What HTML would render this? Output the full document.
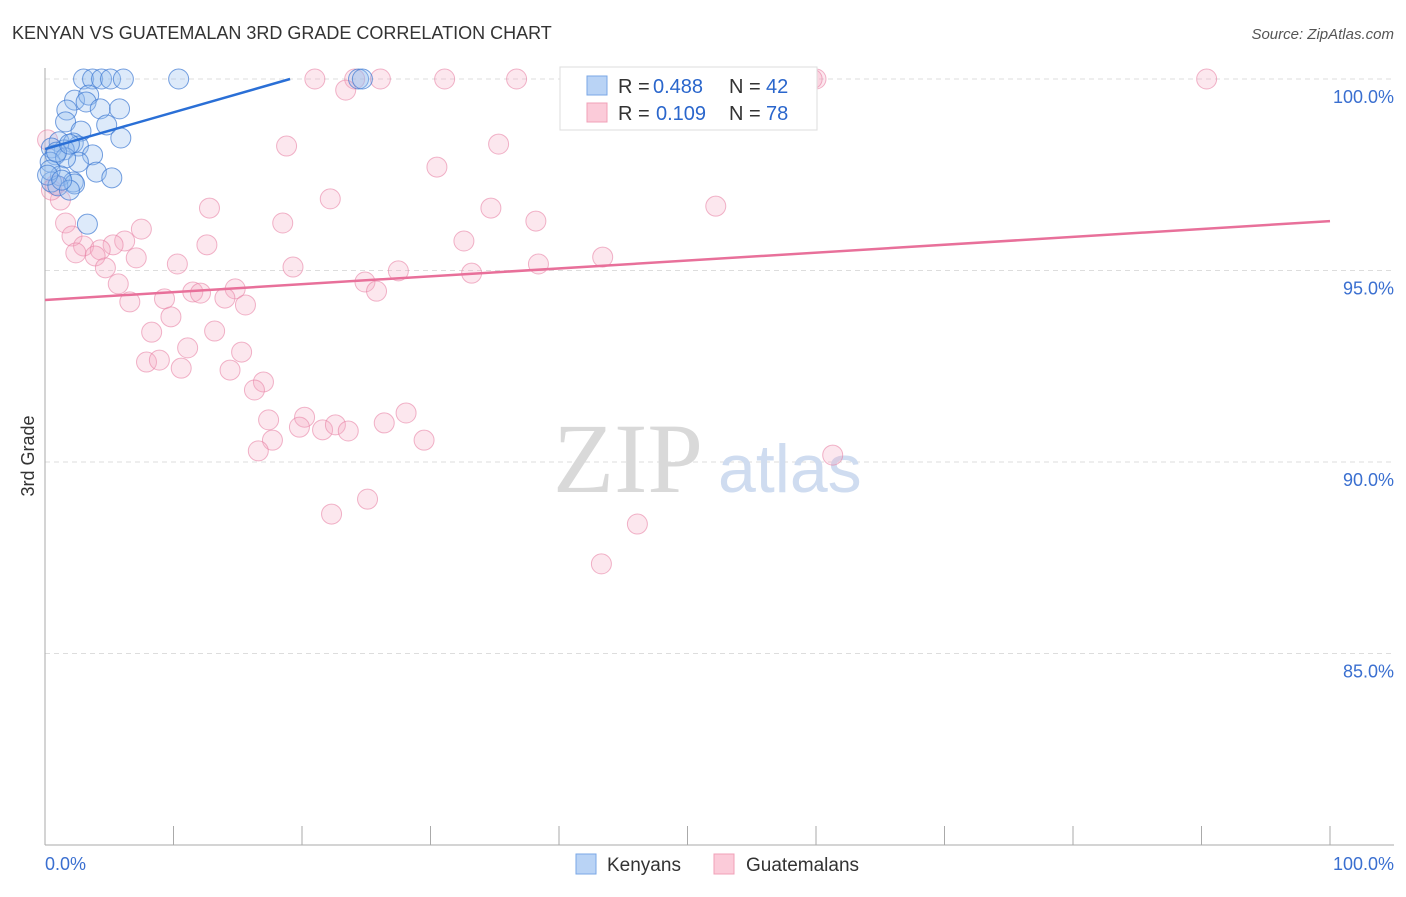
<!DOCTYPE html>
<html><head><meta charset="utf-8"><style>
body{margin:0;background:#fff;font-family:"Liberation Sans",sans-serif;}
</style></head><body>
<svg id="chart" width="1406" height="892" xmlns="http://www.w3.org/2000/svg" font-family="Liberation Sans, sans-serif">
<text x="12" y="39" font-size="18" fill="#333">KENYAN VS GUATEMALAN 3RD GRADE CORRELATION CHART</text>
<text x="1394" y="39" font-size="15" fill="#555" font-style="italic" text-anchor="end">Source: ZipAtlas.com</text>
<text x="34" y="456" font-size="18" fill="#333" transform="rotate(-90 34 456)" text-anchor="middle">3rd Grade</text>
<g id="grid"></g>
<text x="553" y="492" font-size="100" fill="#d9d9d9" style="font-family:'Liberation Serif',serif">ZIP</text>
<text x="718" y="492" font-size="68" fill="#cfdcf0">atlas</text>
<g id="pts"></g>
<g id="lines"></g>
<g>
<rect x="560" y="67" width="257" height="63" fill="#fff" stroke="#ddd"/>
<rect x="587" y="76" width="20" height="19" fill="#b9d3f5" stroke="#7aa7e6"/>
<rect x="587" y="103" width="20" height="19" fill="#fbcbd9" stroke="#f0a0b8"/>
<text x="618" y="93" font-size="20" fill="#333">R =</text>
<text x="653" y="93" font-size="20" fill="#2a66cc">0.488</text>
<text x="729" y="93" font-size="20" fill="#333">N =</text>
<text x="766" y="93" font-size="20" fill="#2a66cc">42</text>
<text x="618" y="120" font-size="20" fill="#333">R =</text>
<text x="656" y="120" font-size="20" fill="#2a66cc">0.109</text>
<text x="729" y="120" font-size="20" fill="#333">N =</text>
<text x="766" y="120" font-size="20" fill="#2a66cc">78</text>
</g>
<g>
<rect x="576" y="854" width="20" height="20" fill="#b9d3f5" stroke="#7aa7e6"/>
<text x="607" y="871" font-size="19" fill="#333">Kenyans</text>
<rect x="714" y="854" width="20" height="20" fill="#fbcbd9" stroke="#f0a0b8"/>
<text x="746" y="871" font-size="19" fill="#333">Guatemalans</text>
</g>
<text x="45" y="870" font-size="18" fill="#3a6fd0">0.0%</text>
<text x="1394" y="870" font-size="18" fill="#3a6fd0" text-anchor="end">100.0%</text>
</svg>
<script>
const yTicks=[100,95,90,85];
const yTickLabels=["100.0%","95.0%","90.0%","85.0%"];
const xTicks=[0,10,20,30,40,50,60,70,80,90,100];
const blueX=[3.0,3.7,4.4,5.1,6.1,10.4,24.4,24.7,2.3,3.4,3.2,4.3,5.8,1.7,1.6,4.8,2.8,5.9,1.1,2.2,2.6,1.5,0.5,0.8,3.7,2.6,0.4,1.6,4.0,5.2,1.2,2.2,2.3,0.5,1.0,1.9,3.3,0.4,0.2,1.3,0.9,1.9];
const blueY=[100,100,100,100,100,100,100,100,99.45,99.58,99.40,99.22,99.22,99.19,98.88,98.80,98.64,98.46,98.36,98.33,98.25,98.15,98.20,98.02,98.02,97.83,97.83,97.94,97.57,97.42,97.47,97.31,97.26,97.31,97.21,97.10,96.21,97.62,97.49,97.36,98.09,98.30];
const pinkX=[90.4,60.0,59.7,36.7,31.1,26.1,24.1,21.0,23.4,18.8,35.3,30.5,52.2,22.2,34.7,38.2,18.5,12.8,1.6,2.1,7.5,6.2,5.3,3.0,4.3,3.9,2.4,7.1,4.7,10.3,12.6,19.3,32.6,27.5,33.2,38.4,43.4,5.7,11.5,14.8,24.9,25.8,9.3,6.6,14.0,12.1,15.6,9.8,8.3,13.2,11.1,15.3,7.9,8.9,10.6,14.4,17.0,16.3,17.4,20.2,17.7,19.8,21.6,22.6,23.6,26.4,28.1,29.5,16.6,61.3,25.1,22.3,46.1,43.3,0.2,1.2,0.8,0.5];
const pinkY=[100,100,100,100,100,100,100,100,99.71,98.25,98.30,97.70,96.68,96.87,96.63,96.29,96.24,96.63,96.24,95.90,96.08,95.77,95.67,95.64,95.54,95.38,95.46,95.33,95.07,95.17,95.67,95.09,95.77,94.99,94.93,95.17,95.35,94.65,94.44,94.52,94.70,94.46,94.26,94.18,94.28,94.41,94.10,93.79,93.39,93.42,92.98,92.87,92.61,92.66,92.45,92.40,92.09,91.88,91.10,91.17,90.57,90.91,90.84,90.97,90.81,91.02,91.28,90.57,90.29,90.18,89.03,88.64,88.38,87.34,98.41,96.84,97.23,97.10];
const blueTrend=[[0,98.17],[19.07,100]];
const pinkTrend=[[0,94.23],[100,96.29]];
const NS="http://www.w3.org/2000/svg";
const xs=v=>45+v*12.85;
const ys=v=>79+(100-v)*38.3;
function mk(t,a,p){const e=document.createElementNS(NS,t);for(const k in a)e.setAttribute(k,a[k]);p.appendChild(e);return e;}
const grid=document.getElementById('grid');
yTicks.forEach((t,i)=>{
 const l=mk('line',{x1:45,x2:1394,y1:ys(t),y2:ys(t),stroke:'#ddd','stroke-dasharray':'5,4'},grid);
 
 
 const tx=mk('text',{x:1394,y:ys(t)+24,'font-size':18,fill:'#3a6fd0','text-anchor':'end'},grid);
 tx.textContent=yTickLabels[i];
 
 
});
const ax=mk('line',{x1:45,x2:45,y1:68,y2:845,stroke:'#aaa'},grid);


const bx=mk('line',{x1:45,x2:1394,y1:845,y2:845,stroke:'#aaa'},grid);


xTicks.forEach(t=>{
 const l=mk('line',{x1:xs(t),x2:xs(t),y1:826,y2:845,stroke:'#aaa'},grid);
 
 
});
const pts=document.getElementById('pts');
pinkX.forEach((x,i)=>{
 const c=mk('circle',{cx:xs(x),cy:ys(pinkY[i]),r:10,fill:'rgba(246,170,195,0.28)',stroke:'rgba(232,130,165,0.6)','stroke-width':1},pts);
 
 
});
blueX.forEach((x,i)=>{
 const c=mk('circle',{cx:xs(x),cy:ys(blueY[i]),r:10,fill:'rgba(150,190,240,0.32)',stroke:'rgba(60,120,210,0.7)','stroke-width':1},pts);
 
 
});
const lines=document.getElementById('lines');
const bl=mk('line',{x1:xs(blueTrend[0][0]),y1:ys(blueTrend[0][1]),x2:xs(blueTrend[1][0]),y2:ys(blueTrend[1][1]),stroke:'#2a6fd6','stroke-width':2.5},lines);


const pl=mk('line',{x1:xs(pinkTrend[0][0]),y1:ys(pinkTrend[0][1]),x2:xs(pinkTrend[1][0]),y2:ys(pinkTrend[1][1]),stroke:'#e8709a','stroke-width':2.5},lines);


</script>
</body></html>
